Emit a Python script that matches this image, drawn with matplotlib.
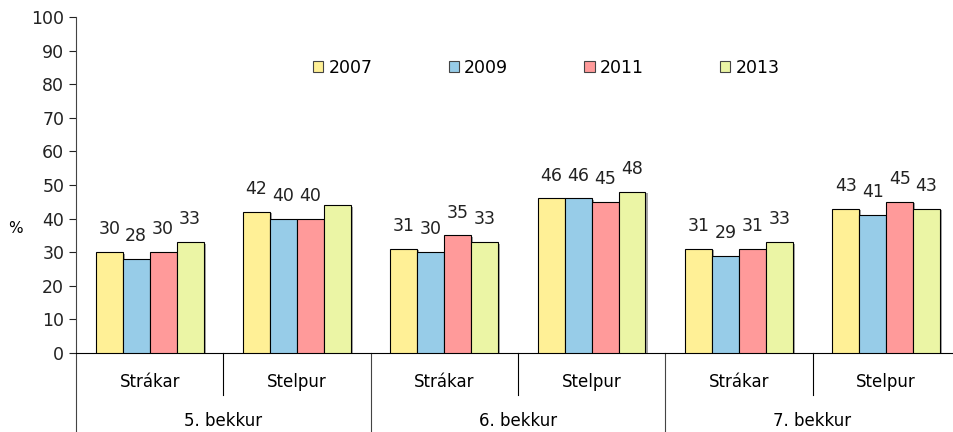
import numpy as np
import matplotlib.pyplot as plt
from matplotlib.patches import Patch
import matplotlib.patheffects as pe

# Data
years = ['2007', '2009', '2011', '2013']
categories = ['Strákar', 'Stelpur', 'Strákar', 'Stelpur', 'Strákar', 'Stelpur']
groups = ['5. bekkur', '6. bekkur', '7. bekkur']

v2007 = [30, 42, 31, 46, 31, 43]
v2009 = [28, 40, 30, 46, 29, 41]
v2011 = [30, 40, 35, 45, 31, 45]
v2013 = [33, 44, 33, 48, 33, 43]
# 2013 value for 5. bekkur Stelpur has no label in the original
show2013 = [True, False, True, True, True, True]

colors = ['#FFF096', '#97CCE8', '#FF9A9A', '#EBF5A5']

plt.rcParams['font.family'] = 'DejaVu Sans'
fs = 12.5

fig = plt.figure(figsize=(9.54, 4.32), dpi=100)
ax = fig.add_axes([76 / 954, 79 / 432, 878 / 954, 336 / 432])

series = [v2007, v2009, v2011, v2013]
x = np.arange(len(categories)) + 0.5
w = 0.183
shadow = [pe.SimplePatchShadow(offset=(1.5, -1.0), shadow_rgbFace='#808080', alpha=0.7), pe.Normal()]

for j, vals in enumerate(series):
    pos = x + (j - 1.5) * w
    bars = ax.bar(pos, vals, width=w, color=colors[j], edgecolor='black', linewidth=0.8, zorder=3)
    for b in bars:
        b.set_path_effects(shadow)
    for i, (p, v) in enumerate(zip(pos, vals)):
        if j == 3 and not show2013[i]:
            continue
        ax.annotate(str(v), (p, v), xytext=(0, 10), textcoords='offset points',
                    ha='center', va='bottom', fontsize=fs, color='#222222')

ax.set_ylim(0, 100)
ax.set_xlim(0, 878 / 147.3)
ax.set_yticks(range(0, 101, 10))
ax.tick_params(axis='y', labelsize=fs, length=5, width=0.8, colors='#222222', direction='out')
ax.set_xticks([])
for s in ['top', 'right']:
    ax.spines[s].set_visible(False)
ax.spines['left'].set_color('#444444')
ax.spines['bottom'].set_color('black')

ax.text(-0.069, 0.372, '%', transform=ax.transAxes, ha='center', va='center', fontsize=fs - 1.5)

# hierarchical x axis
tr = ax.get_xaxis_transform()
for b in [1, 3, 5]:
    ax.plot([b, b], [0, -42 / 336], transform=tr, color='black', lw=0.8, clip_on=False)
for b in [0, 2, 4, 6]:
    ax.plot([b, b], [0, -79 / 336], transform=tr, color='#444444', lw=0.8, clip_on=False)
for xi, c in zip(x, categories):
    ax.text(xi, -29 / 336, c, transform=tr, ha='center', va='center', fontsize=12)
for g, name in enumerate(groups):
    ax.text(2 * g + 1, -68 / 336, name, transform=tr, ha='center', va='center', fontsize=12)

handles = [Patch(facecolor=c, edgecolor='#444444', linewidth=0.8) for c in colors]
ax.legend(handles, years, loc='center left', bbox_to_anchor=((313 - 76) / 878, (353 - 68) / 336),
          ncol=4, frameon=False, fontsize=fs, handlelength=0.58, handleheight=0.58,
          handletextpad=0.3, columnspacing=4.4, borderpad=0, borderaxespad=0)

fig.savefig('out.png', dpi=100)
